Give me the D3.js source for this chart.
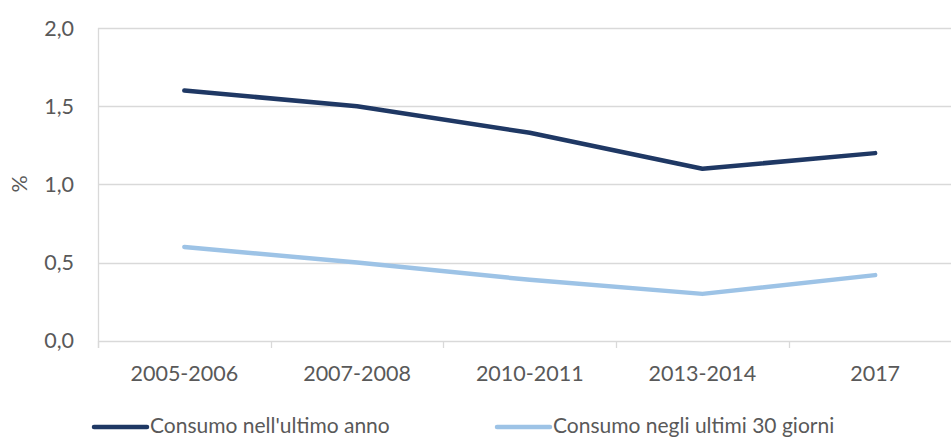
<!DOCTYPE html>
<html><head><meta charset="utf-8">
<script src="https://cdn.jsdelivr.net/npm/d3@7"></script>
<style>body{margin:0;background:#fff}svg{display:block}text{font-family:Lato,"Open Sans",sans-serif;fill:#595959}</style>
</head><body><svg id="c" width="951" height="439"></svg>
<script>
const categories = ["2005-2006","2007-2008","2010-2011","2013-2014","2017"];
const seriesAnno = [1.6,1.5,1.33,1.1,1.2];
const series30 = [0.6,0.5,0.39,0.3,0.42];
const seriesNames = ["Consumo nell'ultimo anno","Consumo negli ultimi 30 giorni"];
const seriesColors = ["#1f3864","#9dc3e6"];
const yTicks = [0,0.5,1,1.5,2];

const svg = d3.select("#c");
const x = d3.scaleBand().domain(categories).range([98,961.5]);
const y = d3.scaleLinear().domain([0,2]).range([340.8,28]);
const fmt = d => d3.format(".1f")(d).replace(".",",");
const FS = "21.5px";

svg.append("g").selectAll("line").data(yTicks).join("line")
  .attr("x1",98).attr("x2",951).attr("y1",d=>Math.round(y(d))+0.5).attr("y2",d=>Math.round(y(d))+0.5)
  .attr("stroke","#d9d9d9").attr("stroke-width",1.3);
svg.append("line").attr("x1",98.5).attr("x2",98.5).attr("y1",28).attr("y2",348).attr("stroke","#d9d9d9").attr("stroke-width",1.3);
svg.append("g").selectAll("line").data(categories.map(c=>x(c))).join("line")
  .attr("x1",d=>Math.round(d)+0.5).attr("x2",d=>Math.round(d)+0.5).attr("y1",341).attr("y2",348)
  .attr("stroke","#d9d9d9").attr("stroke-width",1.3);
svg.append("g").selectAll("text").data(yTicks).join("text")
  .attr("x",74).attr("y",d=>y(d)).attr("dy","0.35em").attr("text-anchor","end")
  .style("font-size",FS).text(fmt);
svg.append("g").selectAll("text").data(categories).join("text")
  .attr("x",d=>x(d)+x.bandwidth()/2).attr("y",373).attr("dy","0.35em").attr("text-anchor","middle")
  .style("font-size",FS).text(d=>d);
svg.append("text").attr("transform","translate(27,184) rotate(-90)").attr("text-anchor","middle")
  .style("font-size",FS).text("%");

const line = d3.line().x((d,i)=>x(categories[i])+x.bandwidth()/2).y(d=>y(d)).curve(d3.curveLinear);
[seriesAnno,series30].forEach((s,i)=>{
  svg.append("path").attr("d",line(s)).attr("fill","none").attr("stroke",seriesColors[i])
    .attr("stroke-width",4.5).attr("stroke-linecap","round").attr("stroke-linejoin","round");
});
const lg = [{x:92,name:seriesNames[0],c:seriesColors[0]},{x:495,name:seriesNames[1],c:seriesColors[1]}];
lg.forEach(l=>{
  svg.append("line").attr("x1",l.x+2).attr("x2",l.x+55).attr("y1",427).attr("y2",427)
    .attr("stroke",l.c).attr("stroke-width",4.5).attr("stroke-linecap","round");
  svg.append("text").attr("x",l.x+58).attr("y",433).style("font-size","21px").text(l.name);
});
</script></body></html>
